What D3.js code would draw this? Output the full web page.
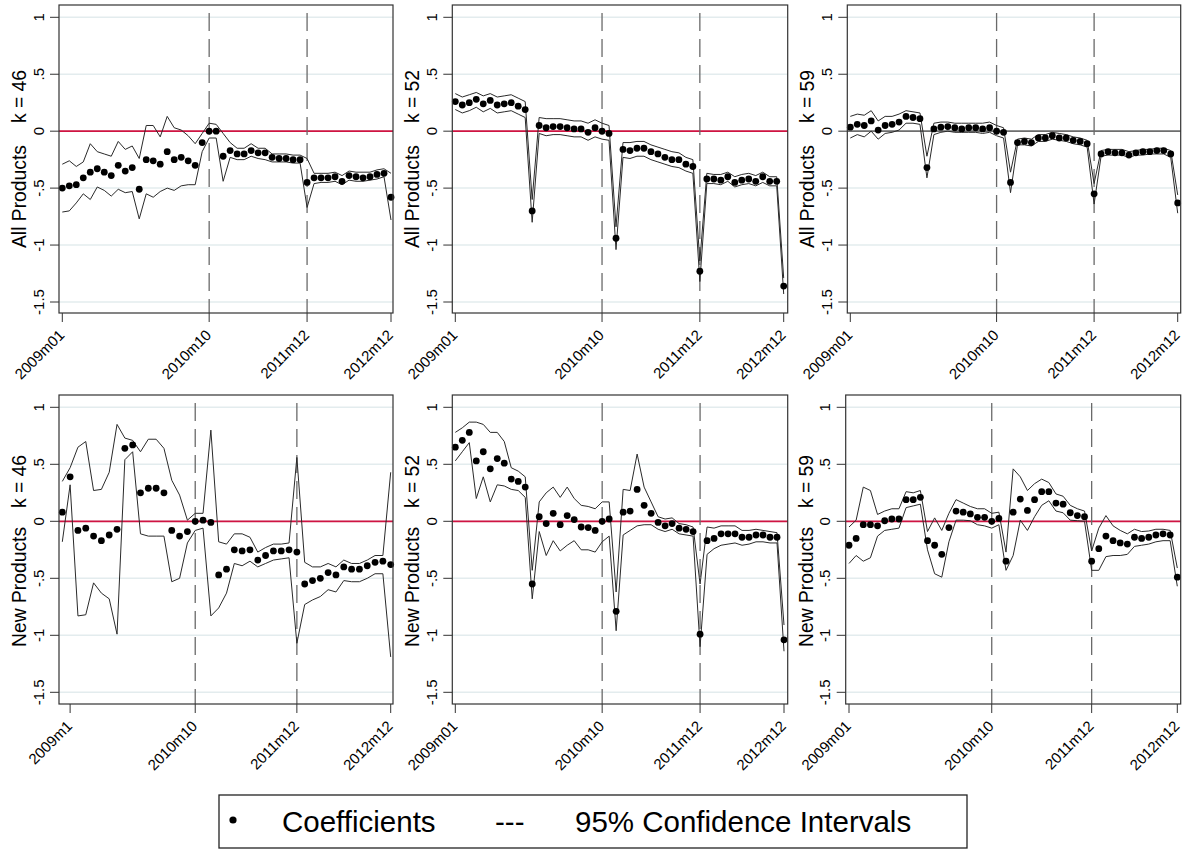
<!DOCTYPE html>
<html><head><meta charset="utf-8">
<script src="https://cdn.jsdelivr.net/npm/d3@7"></script>
<style>
body{margin:0;background:#fff}
svg{display:block}
text{font-family:"Liberation Sans",Arial,Helvetica,sans-serif;fill:#000}
</style>
</head><body>
<svg id="c" width="1185" height="850"></svg>
<script>
// ---------------- DATA ----------------
// All Products, k = 46 (48 months)
const allK46Coef  = [-0.50,-0.48,-0.47,-0.41,-0.36,-0.33,-0.36,-0.39,-0.30,-0.35,-0.32,-0.51,-0.25,-0.26,-0.29,-0.18,-0.25,-0.23,-0.26,-0.30,-0.10,0.00,0.00,-0.22,-0.17,-0.20,-0.20,-0.17,-0.19,-0.19,-0.23,-0.24,-0.24,-0.25,-0.25,-0.45,-0.41,-0.41,-0.41,-0.40,-0.44,-0.39,-0.40,-0.41,-0.40,-0.38,-0.37,-0.58];
const allK46Upper = [-0.29,-0.26,-0.31,-0.27,-0.11,-0.18,-0.20,-0.22,-0.09,-0.16,-0.13,-0.24,0.05,0.05,-0.05,0.13,0.03,0.01,-0.04,-0.11,-0.02,0.07,0.06,-0.02,-0.10,-0.15,-0.15,-0.11,-0.15,-0.15,-0.20,-0.20,-0.20,-0.21,-0.21,-0.24,-0.37,-0.37,-0.37,-0.36,-0.39,-0.35,-0.36,-0.36,-0.36,-0.34,-0.33,-0.37];
const allK46Lower = [-0.71,-0.70,-0.63,-0.55,-0.60,-0.49,-0.52,-0.57,-0.51,-0.54,-0.53,-0.77,-0.55,-0.58,-0.53,-0.50,-0.52,-0.48,-0.47,-0.47,-0.18,-0.06,-0.06,-0.44,-0.23,-0.25,-0.25,-0.22,-0.24,-0.25,-0.27,-0.27,-0.27,-0.28,-0.28,-0.67,-0.46,-0.45,-0.45,-0.44,-0.47,-0.43,-0.44,-0.44,-0.43,-0.42,-0.40,-0.78];

// All Products, k = 52
const allK52Coef  = [0.26,0.23,0.25,0.28,0.24,0.27,0.23,0.24,0.25,0.22,0.19,-0.70,0.05,0.03,0.04,0.04,0.03,0.02,0.02,-0.01,0.03,0.00,-0.02,-0.94,-0.16,-0.17,-0.15,-0.15,-0.18,-0.20,-0.23,-0.25,-0.25,-0.29,-0.31,-1.23,-0.42,-0.42,-0.43,-0.40,-0.45,-0.43,-0.42,-0.44,-0.40,-0.44,-0.44,-1.36];
const allK52Upper = [0.33,0.30,0.32,0.34,0.31,0.33,0.30,0.31,0.32,0.29,0.26,-0.60,0.12,0.11,0.11,0.11,0.10,0.09,0.09,0.07,0.10,0.07,0.05,-0.84,-0.10,-0.10,-0.09,-0.09,-0.12,-0.14,-0.16,-0.18,-0.19,-0.23,-0.25,-1.14,-0.37,-0.38,-0.38,-0.36,-0.40,-0.38,-0.37,-0.39,-0.36,-0.40,-0.40,-1.29];
const allK52Lower = [0.19,0.16,0.18,0.21,0.17,0.20,0.16,0.17,0.18,0.15,0.12,-0.80,-0.02,-0.04,-0.03,-0.03,-0.04,-0.05,-0.05,-0.08,-0.05,-0.07,-0.08,-1.04,-0.23,-0.24,-0.22,-0.22,-0.25,-0.27,-0.29,-0.31,-0.32,-0.35,-0.37,-1.32,-0.46,-0.46,-0.47,-0.44,-0.49,-0.47,-0.46,-0.48,-0.45,-0.48,-0.48,-1.43];

// All Products, k = 59
const allK59Coef  = [0.035,0.06,0.05,0.09,0.01,0.05,0.06,0.08,0.13,0.12,0.11,-0.32,0.02,0.035,0.04,0.03,0.02,0.03,0.03,0.02,0.03,0.00,-0.01,-0.45,-0.10,-0.09,-0.10,-0.06,-0.06,-0.04,-0.06,-0.06,-0.08,-0.09,-0.11,-0.55,-0.20,-0.18,-0.19,-0.19,-0.21,-0.19,-0.18,-0.18,-0.17,-0.17,-0.20,-0.63];
const allK59Upper = [0.13,0.15,0.14,0.18,0.09,0.13,0.13,0.15,0.18,0.17,0.16,-0.22,0.07,0.08,0.08,0.07,0.07,0.07,0.07,0.07,0.08,0.05,0.03,-0.36,-0.07,-0.06,-0.07,-0.03,-0.03,-0.01,-0.02,-0.03,-0.05,-0.06,-0.08,-0.46,-0.17,-0.16,-0.16,-0.16,-0.18,-0.17,-0.16,-0.16,-0.15,-0.15,-0.17,-0.56];
const allK59Lower = [-0.06,-0.03,-0.05,0.00,-0.07,-0.02,-0.01,0.01,0.07,0.07,0.06,-0.41,-0.03,-0.01,0.00,-0.01,-0.01,-0.01,-0.01,-0.02,-0.01,-0.04,-0.06,-0.54,-0.12,-0.12,-0.13,-0.09,-0.09,-0.07,-0.08,-0.09,-0.11,-0.12,-0.14,-0.64,-0.22,-0.21,-0.21,-0.21,-0.23,-0.21,-0.21,-0.20,-0.20,-0.20,-0.23,-0.72];

// New Products, k = 46 (43 observations)
const newK46Coef  = [0.08,0.39,-0.08,-0.06,-0.13,-0.17,-0.12,-0.07,0.64,0.67,0.25,0.29,0.29,0.25,-0.08,-0.13,-0.09,0.00,0.01,-0.01,-0.47,-0.42,-0.25,-0.26,-0.25,-0.34,-0.30,-0.26,-0.26,-0.25,-0.27,-0.55,-0.52,-0.50,-0.45,-0.47,-0.40,-0.42,-0.42,-0.39,-0.36,-0.35,-0.38];
const newK46Upper = [0.35,0.47,0.65,0.70,0.27,0.28,0.43,0.85,0.73,0.71,0.61,0.72,0.72,0.64,0.36,0.23,0.01,0.07,0.07,0.80,-0.18,-0.20,-0.11,-0.11,-0.14,-0.27,-0.23,-0.20,-0.20,-0.19,0.56,-0.36,-0.40,-0.40,-0.37,-0.40,-0.34,-0.37,-0.37,-0.34,-0.30,-0.30,0.43];
const newK46Lower = [-0.18,0.32,-0.83,-0.82,-0.54,-0.63,-0.68,-0.99,0.54,0.61,-0.11,-0.13,-0.13,-0.13,-0.53,-0.50,-0.19,-0.08,-0.06,-0.83,-0.76,-0.63,-0.37,-0.39,-0.35,-0.40,-0.37,-0.34,-0.33,-0.32,-1.07,-0.73,-0.69,-0.66,-0.60,-0.62,-0.52,-0.53,-0.53,-0.50,-0.46,-0.46,-1.19];

// New Products, k = 52
const newK52Coef  = [0.65,0.71,0.78,0.53,0.61,0.46,0.55,0.51,0.37,0.35,0.30,-0.55,0.04,-0.02,0.07,-0.03,0.05,0.015,-0.05,-0.055,-0.08,0.00,0.02,-0.79,0.08,0.09,0.28,0.14,0.07,-0.01,-0.04,-0.02,-0.06,-0.07,-0.09,-0.99,-0.17,-0.15,-0.11,-0.11,-0.11,-0.14,-0.14,-0.12,-0.12,-0.14,-0.14,-1.04];
const newK52Upper = [0.78,0.82,0.87,0.87,0.85,0.78,0.78,0.70,0.47,0.44,0.39,-0.43,0.17,0.25,0.30,0.21,0.30,0.20,0.14,0.13,0.11,0.17,0.17,-0.62,0.28,0.27,0.59,0.30,0.17,0.04,0.02,0.03,-0.02,-0.03,-0.05,-0.55,-0.05,-0.06,-0.04,-0.04,-0.04,-0.08,-0.08,-0.07,-0.08,-0.09,-0.10,-0.91];
const newK52Lower = [0.53,0.61,0.69,0.20,0.39,0.17,0.32,0.31,0.28,0.27,0.21,-0.68,-0.09,-0.30,-0.17,-0.26,-0.21,-0.17,-0.25,-0.25,-0.27,-0.18,-0.13,-0.96,-0.12,-0.08,-0.04,-0.03,-0.03,-0.07,-0.09,-0.07,-0.11,-0.12,-0.13,-1.10,-0.29,-0.24,-0.21,-0.20,-0.19,-0.21,-0.20,-0.18,-0.18,-0.19,-0.19,-1.14];

// New Products, k = 59 (47 observations)
const newK59Coef  = [-0.21,-0.15,-0.03,-0.03,-0.04,0.005,0.02,0.02,0.19,0.19,0.21,-0.17,-0.21,-0.29,-0.055,0.09,0.08,0.065,0.035,0.035,0.00,0.025,-0.35,0.08,0.195,0.095,0.19,0.26,0.26,0.16,0.15,0.075,0.05,0.04,-0.35,-0.24,-0.13,-0.17,-0.19,-0.20,-0.14,-0.15,-0.14,-0.12,-0.11,-0.12,-0.49];
const newK59Upper = [-0.05,0.01,0.30,0.27,0.06,0.09,0.11,0.11,0.26,0.25,0.27,-0.09,0.03,-0.08,0.07,0.19,0.16,0.13,0.11,0.11,0.07,0.08,-0.27,0.46,0.39,0.27,0.33,0.37,0.34,0.24,0.22,0.14,0.11,0.09,-0.26,-0.06,0.05,-0.04,-0.08,-0.11,-0.07,-0.09,-0.085,-0.07,-0.07,-0.08,-0.41];
const newK59Lower = [-0.37,-0.30,-0.35,-0.32,-0.13,-0.08,-0.07,-0.06,0.12,0.135,0.15,-0.25,-0.46,-0.49,-0.18,0.01,0.01,0.005,-0.03,-0.04,-0.06,-0.03,-0.43,-0.30,0.01,-0.08,0.04,0.14,0.18,0.09,0.075,0.01,0.005,0.00,-0.43,-0.43,-0.31,-0.30,-0.30,-0.29,-0.22,-0.21,-0.20,-0.18,-0.17,-0.17,-0.57];

// Axis ticks
const yTickValues = [1, 0.5, 0, -0.5, -1, -1.5];
const yTickLabels = ["1", ".5", "0", "-.5", "-1", "-1.5"];
const xTickLabelsStd = ["2009m01", "2010m10", "2011m12", "2012m12"];
const xTickLabelsNew46 = ["2009m1", "2010m10", "2011m12", "2012m12"];
const xTickIdxStd = [0, 21, 35, 47];
const xTickIdxNew46 = [1, 17, 30, 42];
const xTickIdxNew59 = [0, 20, 34, 46];
const eventIdxStd = [21, 35];
const eventIdxNew46 = [17, 30];
const eventIdxNew59 = [20, 34];
const rowNames = ["All Products", "New Products"];
const kLabels = ["k = 46", "k = 52", "k = 59"];
const legendLabels = ["Coefficients", "---", "95% Confidence Intervals"];

// ---------------- LAYOUT ----------------
const rows = [
  {top: 5,   bottom: 313, yTop: 17.3,  yBot: 302.0, tStart: 248, tEnd: 70},
  {top: 395, bottom: 704, yTop: 407.3, yBot: 692.3, tStart: 647, tEnd: 455}
];
const panels = [
  {row:0, name:rowNames[0], k:kLabels[0], coef:allK46Coef, up:allK46Upper, lo:allK46Lower, ticks:xTickIdxStd,   labels:xTickLabelsStd,   events:eventIdxStd,   l:59,    r:393,    x0:62.3,  x1:391.0,  zero:"#cf1442"},
  {row:0, name:rowNames[0], k:kLabels[1], coef:allK52Coef, up:allK52Upper, lo:allK52Lower, ticks:xTickIdxStd,   labels:xTickLabelsStd,   events:eventIdxStd,   l:452.3, r:787.7,  x0:455.3, x1:783.7,  zero:"#cf1442"},
  {row:0, name:rowNames[0], k:kLabels[2], coef:allK59Coef, up:allK59Upper, lo:allK59Lower, ticks:xTickIdxStd,   labels:xTickLabelsStd,   events:eventIdxStd,   l:847.3, r:1180.7, x0:850.3, x1:1177.7, zero:"#6e6e6e"},
  {row:1, name:rowNames[1], k:kLabels[0], coef:newK46Coef, up:newK46Upper, lo:newK46Lower, ticks:xTickIdxNew46, labels:xTickLabelsNew46, events:eventIdxNew46, l:59,    r:393,    x0:62.3,  x1:390.7,  zero:"#cf1442"},
  {row:1, name:rowNames[1], k:kLabels[1], coef:newK52Coef, up:newK52Upper, lo:newK52Lower, ticks:xTickIdxStd,   labels:xTickLabelsStd,   events:eventIdxStd,   l:452.3, r:787.7,  x0:455.3, x1:784.0,  zero:"#cf1442"},
  {row:1, name:rowNames[1], k:kLabels[2], coef:newK59Coef, up:newK59Upper, lo:newK59Lower, ticks:xTickIdxNew59, labels:xTickLabelsStd,   events:eventIdxNew59, l:845.7, r:1180.7, x0:849.0, x1:1177.3, zero:"#cf1442"}
];

const svg = d3.select("#c");
svg.append("rect").attr("width",1185).attr("height",850).attr("fill","#fff");

// fit the y-title font so "All Products" spans ~103px as in the reference
const probe = svg.append("text").attr("font-size", 100).text(rowNames[0]);
const probeLen = probe.node().getComputedTextLength() || 533;
probe.remove();
const titleFont = Math.max(16, Math.min(22, 103 / probeLen * 100));

panels.forEach(p => {
  const R = rows[p.row];
  const n = p.coef.length;
  const x = d3.scaleLinear().domain([0, n - 1]).range([p.x0, p.x1]);
  const y = d3.scaleLinear().domain([-1.5, 1]).range([R.yBot, R.yTop]);
  const g = svg.append("g");

  // gridlines
  g.selectAll("line.grid").data(yTickValues).join("line")
    .attr("x1", p.l).attr("x2", p.r)
    .attr("y1", d => y(d)).attr("y2", d => y(d))
    .attr("stroke", "#e3ecee").attr("stroke-width", 1.5);

  // zero reference line
  g.append("line").attr("x1", p.l).attr("x2", p.r)
    .attr("y1", y(0)).attr("y2", y(0))
    .attr("stroke", p.zero).attr("stroke-width", 1.7);

  // dashed event lines
  g.selectAll("line.ev").data(p.events).join("line")
    .attr("x1", d => x(d)).attr("x2", d => x(d))
    .attr("y1", R.top + 8).attr("y2", R.bottom)
    .attr("stroke", "#6a6a6a").attr("stroke-width", 1.3)
    .attr("stroke-dasharray", "18,8");

  // confidence interval lines
  const line = d3.line().x((d, i) => x(i)).y(d => y(d));
  [p.up, p.lo].forEach(s => {
    g.append("path").attr("d", line(s)).attr("fill", "none")
      .attr("stroke", "#2a2a2a").attr("stroke-width", 1);
  });

  // coefficient dots
  g.selectAll("circle").data(p.coef).join("circle")
    .attr("cx", (d, i) => x(i)).attr("cy", d => y(d)).attr("r", 3.4)
    .attr("fill", "#000");

  // frame
  g.append("rect").attr("x", p.l).attr("y", R.top)
    .attr("width", p.r - p.l).attr("height", R.bottom - R.top)
    .attr("fill", "none").attr("stroke", "#333").attr("stroke-width", 1.2);

  // y ticks & labels
  g.selectAll("line.yt").data(yTickValues).join("line")
    .attr("x1", p.l - 9).attr("x2", p.l)
    .attr("y1", d => y(d)).attr("y2", d => y(d))
    .attr("stroke", "#333").attr("stroke-width", 1);
  g.selectAll("text.yl").data(yTickValues).join("text")
    .attr("transform", d => `translate(${p.l - 15.5},${y(d)}) rotate(-90)`)
    .attr("text-anchor", "middle").attr("font-size", 15)
    .text((d, i) => yTickLabels[i]);

  // x ticks & labels
  g.selectAll("line.xt").data(p.ticks).join("line")
    .attr("x1", d => x(d)).attr("x2", d => x(d))
    .attr("y1", R.bottom).attr("y2", R.bottom + 9)
    .attr("stroke", "#333").attr("stroke-width", 1);
  g.selectAll("text.xl").data(p.ticks).join("text")
    .attr("transform", d => `translate(${x(d) + 3},${R.bottom + 23}) rotate(-45)`)
    .attr("text-anchor", "end").attr("font-size", 15)
    .text((d, i) => p.labels[i]);

  // y title (two parts, anchored at reference ends)
  const tx = p.l - 33;
  g.append("text")
    .attr("transform", `translate(${tx},${R.tStart}) rotate(-90)`)
    .attr("text-anchor", "start").attr("font-size", titleFont)
    .text(p.name);
  g.append("text")
    .attr("transform", `translate(${tx},${R.tEnd}) rotate(-90)`)
    .attr("text-anchor", "end").attr("font-size", titleFont)
    .text(p.k);
});

// legend
const lg = svg.append("g");
lg.append("rect").attr("x", 219).attr("y", 795).attr("width", 748).attr("height", 53)
  .attr("fill", "#fff").attr("stroke", "#222").attr("stroke-width", 1.3);
lg.append("circle").attr("cx", 233).attr("cy", 820).attr("r", 3.6).attr("fill", "#000");
lg.append("text").attr("x", 282).attr("y", 832).attr("font-size", 29.5).text(legendLabels[0]);
lg.append("text").attr("x", 495).attr("y", 832).attr("font-size", 29.5).text(legendLabels[1]);
lg.append("text").attr("x", 575).attr("y", 832).attr("font-size", 29.5).text(legendLabels[2]);
</script>
</body></html>
